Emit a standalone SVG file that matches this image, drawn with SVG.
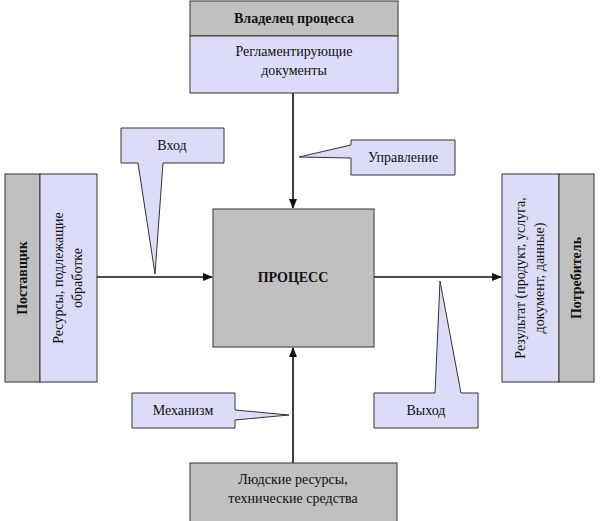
<svg xmlns="http://www.w3.org/2000/svg" width="600" height="521" viewBox="0 0 600 521">
<style>
.g{fill:#c0c0c0;stroke:#333;stroke-width:1}
.l{fill:#dcdcf8;stroke:#333;stroke-width:1}
.t{font-family:"Liberation Serif",serif;font-size:14px;fill:#111;text-anchor:middle}
.b{font-weight:bold}
.c{stroke:#111;stroke-width:1.6;fill:none}
</style>
<defs><marker id="a" markerWidth="10" markerHeight="10" refX="9" refY="5" orient="auto" markerUnits="userSpaceOnUse"><path d="M0,1 L10,5 L0,9 z" fill="#111"/></marker></defs>
<rect width="600" height="521" fill="#fff"/>
<g id="connectors">
<line class="c" x1="293" y1="93" x2="293" y2="208" marker-end="url(#a)"/>
<line class="c" x1="97" y1="277" x2="212" y2="277" marker-end="url(#a)"/>
<line class="c" x1="374" y1="277" x2="501" y2="277" marker-end="url(#a)"/>
<line class="c" x1="293" y1="463" x2="293" y2="348" marker-end="url(#a)"/>
</g>
<g id="owner"><rect class="g" x="190" y="1" width="208" height="35"/><rect class="l" x="190" y="36" width="208" height="57"/>
<text class="t b" x="294" y="23">Владелец процесса</text>
<text class="t" x="294" y="56">Регламентирующие</text><text class="t" x="294" y="75">документы</text></g>
<g id="process"><rect class="g" x="213" y="209" width="161" height="138"/><text class="t b" x="293" y="282">ПРОЦЕСС</text></g>
<g id="supplier"><rect class="g" x="5" y="174" width="35" height="208"/><rect class="l" x="40" y="174" width="57" height="208"/>
<text class="t b" transform="translate(27,278) rotate(-90)">Поставщик</text>
<text class="t" transform="translate(63,278) rotate(-90)">Ресурсы, подлежащие</text>
<text class="t" transform="translate(82,278) rotate(-90)">обработке</text></g>
<g id="consumer"><rect class="l" x="502" y="174" width="57" height="208"/><rect class="g" x="559" y="174" width="35" height="208"/>
<text class="t" transform="translate(525,278) rotate(-90)">Результат (продукт, услуга,</text>
<text class="t" transform="translate(544,278) rotate(-90)">документ, данные)</text>
<text class="t b" transform="translate(581,278) rotate(-90)">Потребитель</text></g>
<g id="resources"><rect class="g" x="190" y="463" width="207" height="60"/>
<text class="t" x="293" y="484">Людские ресурсы,</text><text class="t" x="293" y="503">технические средства</text></g>
<g id="vhod"><path class="l" d="M121,128 H224 V163 H163 L155,274 L138,163 H121 Z"/><text class="t" x="172" y="150">Вход</text></g>
<g id="upr"><path class="l" d="M351,140 H455 V175 H351 V158 L299,157 L351,145 Z"/><text class="t" x="403" y="162">Управление</text></g>
<g id="mech"><path class="l" d="M132,393 H235 V410 L289,415 L235,420 V428 H132 Z"/><text class="t" x="183" y="415">Механизм</text></g>
<g id="vyhod"><path class="l" d="M374,393 H435 L440,281 L461,393 H478 V428 H374 Z"/><text class="t" x="426" y="415">Выход</text></g>
</svg>
